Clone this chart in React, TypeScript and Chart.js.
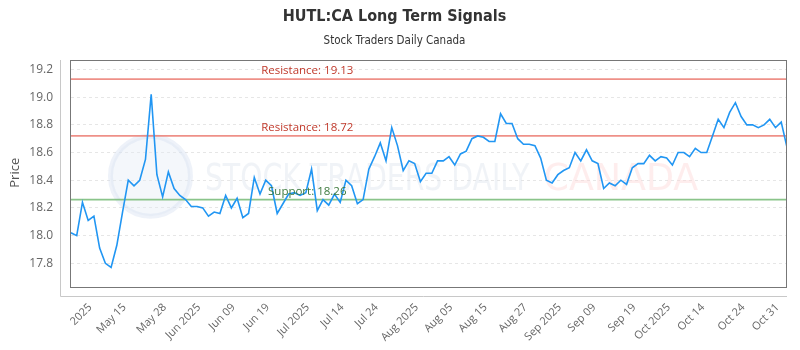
import React, { useEffect, useRef } from 'react';
import { Chart, registerables } from 'chart.js';

Chart.register(...registerables);

const TITLE = 'HUTL:CA Long Term Signals';
const SUBTITLE = 'Stock Traders Daily Canada';
const Y_TITLE = 'Price';

const prices = [
  18.02, 18.0, 18.24, 18.11, 18.14, 17.91, 17.8, 17.77, 17.93, 18.17,
  18.4, 18.36, 18.4, 18.55, 19.02, 18.44, 18.28, 18.46, 18.34, 18.29,
  18.26, 18.21, 18.21, 18.2, 18.14, 18.17, 18.16, 18.29, 18.2, 18.27,
  18.13, 18.16, 18.42, 18.3, 18.4, 18.36, 18.16, 18.23, 18.3, 18.31,
  18.29, 18.31, 18.48, 18.18, 18.26, 18.22, 18.3, 18.24, 18.4, 18.36,
  18.23, 18.26, 18.48, 18.57, 18.67, 18.54, 18.78, 18.65, 18.47, 18.54,
  18.52, 18.39, 18.45, 18.45, 18.54, 18.54, 18.57, 18.51, 18.59, 18.61,
  18.7, 18.72, 18.71, 18.68, 18.68, 18.88, 18.81, 18.81, 18.7, 18.66,
  18.66, 18.65, 18.56, 18.4, 18.38, 18.44, 18.47, 18.49, 18.6, 18.54,
  18.62, 18.54, 18.52, 18.34, 18.38, 18.36, 18.4, 18.37, 18.49, 18.52,
  18.52, 18.58, 18.54, 18.57, 18.56, 18.51, 18.6, 18.6, 18.57, 18.63,
  18.6, 18.6, 18.72, 18.84, 18.78, 18.89, 18.96, 18.86, 18.8, 18.8,
  18.78, 18.8, 18.84, 18.78, 18.82, 18.64,
];

const xTickIndex = [3, 9, 16, 22, 28, 34, 41, 47, 53, 60, 66, 72, 79, 85, 91, 98, 104, 110, 117, 123];
const xTickLabels = [
  '2025', 'May 15', 'May 28', 'Jun 2025', 'Jun 09', 'Jun 19', 'Jul 2025', 'Jul 14', 'Jul 24', 'Aug 2025',
  'Aug 05', 'Aug 15', 'Aug 27', 'Sep 2025', 'Sep 09', 'Sep 19', 'Oct 2025', 'Oct 14', 'Oct 24', 'Oct 31',
];
const yTickValues = [17.8, 18.0, 18.2, 18.4, 18.6, 18.8, 19.0, 19.2];
const Y_MIN = 17.636;
const Y_MAX = 19.272;

const resistanceLevels = [19.13, 18.72];
const supportLevels = [18.26];

const WATERMARK_A = 'STOCK TRADERS DAILY';
const WATERMARK_B = 'CANADA';

const TICK_FONT = "'Open Sans', sans-serif";
const TITLE_FONT = "'DejaVu Sans Condensed', sans-serif";

const decorPlugin = {
  id: 'decor',
  beforeDatasetsDraw(chart: any) {
    const { ctx, chartArea: a } = chart;
    const w = a.right - a.left;
    const h = a.bottom - a.top;
    ctx.save();
    // watermark logo circle
    const cx = a.left + w * 0.111;
    const cy = a.top + h * 0.515;
    ctx.beginPath();
    ctx.arc(cx, cy, 40, 0, Math.PI * 2);
    ctx.fillStyle = 'rgba(228,235,246,0.4)';
    ctx.fill();
    ctx.lineWidth = 5;
    ctx.strokeStyle = 'rgba(212,223,240,0.4)';
    ctx.stroke();
    // watermark text
    ctx.font = "38px 'DejaVu Sans Condensed', sans-serif";
    ctx.textBaseline = 'alphabetic';
    ctx.textAlign = 'left';
    const baseY = a.top + h * 0.577;
    const xA = a.left + w * 0.187;
    const targetA = w * 0.453;
    const mA = ctx.measureText(WATERMARK_A).width;
    ctx.save();
    ctx.translate(xA, baseY);
    ctx.scale(targetA / mA, 1);
    ctx.fillStyle = 'rgba(222,228,238,0.45)';
    ctx.fillText(WATERMARK_A, 0, 0);
    ctx.restore();
    const xB = a.left + w * 0.66;
    const targetB = w * 0.216;
    const mB = ctx.measureText(WATERMARK_B).width;
    ctx.save();
    ctx.translate(xB, baseY);
    ctx.scale(targetB / mB, 1);
    ctx.fillStyle = 'rgba(252,215,215,0.45)';
    ctx.fillText(WATERMARK_B, 0, 0);
    ctx.restore();
    ctx.restore();
  },
  afterDatasetsDraw(chart: any) {
    const { ctx, chartArea: a, scales } = chart;
    const y = scales.y;
    const w = a.right - a.left;
    ctx.save();
    ctx.font = `11.5px ${TICK_FONT}`;
    ctx.textAlign = 'center';
    ctx.textBaseline = 'alphabetic';
    const lx = a.left + w * 0.33;
    resistanceLevels.forEach((v) => {
      ctx.fillStyle = '#c0392b';
      ctx.fillText(`Resistance: ${v.toFixed(2)}`, lx, y.getPixelForValue(v) - 5);
    });
    supportLevels.forEach((v) => {
      ctx.fillStyle = '#3d7a3d';
      ctx.fillText(`Support: ${v.toFixed(2)}`, lx, y.getPixelForValue(v) - 5);
    });
    // chart area box
    ctx.strokeStyle = '#777';
    ctx.lineWidth = 1;
    ctx.strokeRect(Math.round(a.left) - 0.5, Math.round(a.top) + 0.5, Math.round(w), Math.round(a.bottom - a.top));
    // offset axis lines
    ctx.strokeStyle = '#c8c8c8';
    ctx.beginPath();
    const ax = Math.round(a.left) - 10.5;
    const ay = Math.round(a.bottom) + 10.5;
    ctx.moveTo(ax, Math.round(a.top));
    ctx.lineTo(ax, ay);
    ctx.moveTo(ax, ay);
    ctx.lineTo(Math.round(a.right), ay);
    ctx.stroke();
    ctx.restore();
  },
};

export default function App() {
  const ref = useRef<HTMLCanvasElement | null>(null);
  useEffect(() => {
    document.body.style.margin = '0';
    const canvas = ref.current;
    if (!canvas) return;
    const lineData = (v: number) => [{ x: 0, y: v }, { x: prices.length - 1, y: v }];
    const chart = new Chart(canvas, {
      type: 'line',
      data: {
        datasets: [
          {
            label: 'Price',
            data: prices.map((p, i) => ({ x: i, y: p })),
            borderColor: '#2196f3',
            borderWidth: 1.6,
            pointRadius: 0,
            tension: 0,
            fill: false,
          },
          ...resistanceLevels.map((v) => ({
            label: 'Resistance',
            data: lineData(v),
            borderColor: 'rgba(235,125,115,0.85)',
            borderWidth: 1.8,
            pointRadius: 0,
            fill: false,
          })),
          ...supportLevels.map((v) => ({
            label: 'Support',
            data: lineData(v),
            borderColor: 'rgba(125,190,125,0.9)',
            borderWidth: 1.8,
            pointRadius: 0,
            fill: false,
          })),
        ],
      },
      options: {
        animation: false,
        responsive: false,
        maintainAspectRatio: false,
        layout: { padding: { left: 0, right: 11, top: 0, bottom: 0 } },
        plugins: {
          legend: { display: false },
          tooltip: { enabled: false },
          title: {
            display: true,
            text: TITLE,
            color: '#333',
            font: { family: TITLE_FONT, size: 16, weight: 'bold' },
            padding: { top: 7, bottom: 8 },
          },
          subtitle: {
            display: true,
            text: SUBTITLE,
            color: '#333',
            font: { family: TITLE_FONT, size: 11.5 },
            padding: { top: 0, bottom: 11.5 },
          },
        },
        scales: {
          x: {
            type: 'linear',
            min: 0,
            max: prices.length - 1,
            grid: { display: false, drawTicks: false },
            border: { display: false },
            afterBuildTicks: (scale: any) => {
              scale.ticks = xTickIndex.map((v) => ({ value: v }));
            },
            afterFit: (scale: any) => {
              scale.height = 64;
            },
            ticks: {
              autoSkip: false,
              minRotation: 45,
              maxRotation: 45,
              padding: 15,
              labelOffset: 2,
              color: '#666',
              font: { family: TICK_FONT, size: 11 },
              callback: (_v: any, i: number) => xTickLabels[i],
            },
          },
          y: {
            type: 'linear',
            min: Y_MIN,
            max: Y_MAX,
            afterBuildTicks: (scale: any) => {
              scale.ticks = yTickValues.map((v) => ({ value: v }));
            },
            afterFit: (scale: any) => {
              scale.width = 71;
            },
            grid: {
              drawTicks: false,
              color: '#e6e6e6',
              lineWidth: 1,
            },
            border: { display: false, dash: [3, 3] },
            ticks: {
              padding: 18,
              color: '#666',
              font: { family: TICK_FONT, size: 12 },
              callback: (v: any) => Number(v).toFixed(1),
            },
            title: {
              display: true,
              text: Y_TITLE,
              color: '#555',
              font: { family: TICK_FONT, size: 13 },
              padding: { top: 7, bottom: 0 },
            },
          },
        },
      },
      plugins: [decorPlugin],
    } as any);
    return () => chart.destroy();
  }, []);
  return <canvas ref={ref} width={800} height={350} style={{ display: 'block' }} />;
}
